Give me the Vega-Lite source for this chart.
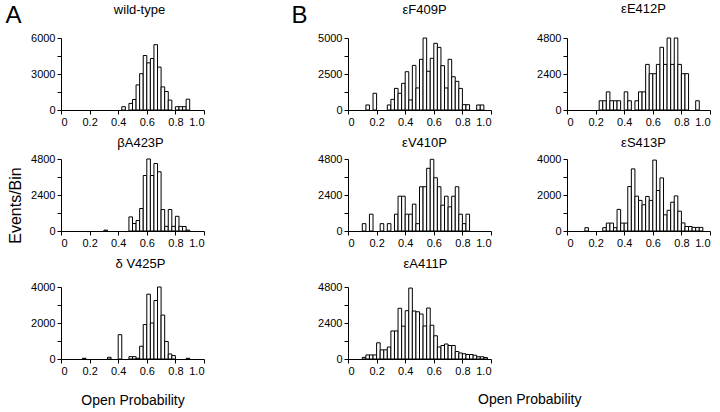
{
  "$schema": "https://vega.github.io/schema/vega-lite/v6.json",
  "padding": {"left": 5, "top": 3, "right": 5, "bottom": 3},
  "background": "white",
  "config": {
    "view": {"stroke": null},
    "font": "Liberation Sans",
    "axis": {"domainColor": "black", "tickColor": "black", "labelColor": "black", "labelFontSize": 11, "labelFont": "Liberation Sans", "grid": false, "tickSize": 4, "labelPadding": 2, "domainWidth": 1, "tickWidth": 1, "titleColor": "black", "titleFontWeight": "normal", "titleFont": "Liberation Sans", "labelOverlap": false},
    "title": {"fontSize": 13, "fontWeight": "normal", "font": "Liberation Sans", "color": "black"},
    "bar": {"fill": "white", "stroke": "black", "strokeWidth": 1}
  },
  "datasets": {
    "wt": [
      {"lo":0.425,"hi":0.45,"n":275},{"lo":0.475,"hi":0.5,"n":550},{"lo":0.5,"hi":0.525,"n":880},{"lo":0.525,"hi":0.55,"n":2090},{"lo":0.55,"hi":0.575,"n":3025},{"lo":0.575,"hi":0.6,"n":4540},{"lo":0.6,"hi":0.625,"n":3930},{"lo":0.625,"hi":0.65,"n":4290},{"lo":0.65,"hi":0.675,"n":5445},{"lo":0.675,"hi":0.7,"n":3575},{"lo":0.7,"hi":0.725,"n":1925},{"lo":0.725,"hi":0.75,"n":1540},{"lo":0.75,"hi":0.775,"n":825},{"lo":0.8,"hi":0.825,"n":275},{"lo":0.825,"hi":0.85,"n":275},{"lo":0.85,"hi":0.875,"n":275},{"lo":0.875,"hi":0.9,"n":900}
    ],
    "bA423P": [
      {"lo":0.3,"hi":0.325,"n":60},{"lo":0.475,"hi":0.5,"n":940},{"lo":0.5,"hi":0.525,"n":500},{"lo":0.525,"hi":0.55,"n":700},{"lo":0.55,"hi":0.575,"n":1500},{"lo":0.575,"hi":0.6,"n":3700},{"lo":0.6,"hi":0.625,"n":4800},{"lo":0.625,"hi":0.65,"n":3700},{"lo":0.65,"hi":0.675,"n":4500},{"lo":0.675,"hi":0.7,"n":3950},{"lo":0.7,"hi":0.725,"n":1430},{"lo":0.725,"hi":0.75,"n":310},{"lo":0.75,"hi":0.775,"n":1430},{"lo":0.775,"hi":0.8,"n":310},{"lo":0.8,"hi":0.825,"n":980},{"lo":0.825,"hi":0.85,"n":310},{"lo":0.85,"hi":0.875,"n":300},{"lo":0.875,"hi":0.9,"n":60}
    ],
    "dV425P": [
      {"lo":0.15,"hi":0.175,"n":40},{"lo":0.325,"hi":0.35,"n":95},{"lo":0.4,"hi":0.425,"n":1350},{"lo":0.475,"hi":0.5,"n":130},{"lo":0.5,"hi":0.525,"n":130},{"lo":0.525,"hi":0.55,"n":40},{"lo":0.55,"hi":0.575,"n":710},{"lo":0.575,"hi":0.6,"n":1915},{"lo":0.6,"hi":0.625,"n":3600},{"lo":0.625,"hi":0.65,"n":2000},{"lo":0.65,"hi":0.675,"n":3250},{"lo":0.675,"hi":0.7,"n":4000},{"lo":0.7,"hi":0.725,"n":2440},{"lo":0.725,"hi":0.75,"n":975},{"lo":0.75,"hi":0.775,"n":280},{"lo":0.775,"hi":0.8,"n":190},{"lo":0.875,"hi":0.9,"n":40}
    ],
    "eF409P": [
      {"lo":0.125,"hi":0.15,"n":350},{"lo":0.175,"hi":0.2,"n":1160},{"lo":0.275,"hi":0.3,"n":350},{"lo":0.3,"hi":0.325,"n":740},{"lo":0.325,"hi":0.35,"n":1500},{"lo":0.35,"hi":0.375,"n":1160},{"lo":0.375,"hi":0.4,"n":1850},{"lo":0.4,"hi":0.425,"n":2660},{"lo":0.425,"hi":0.45,"n":700},{"lo":0.45,"hi":0.475,"n":3100},{"lo":0.475,"hi":0.5,"n":1530},{"lo":0.5,"hi":0.525,"n":3520},{"lo":0.525,"hi":0.55,"n":5000},{"lo":0.55,"hi":0.575,"n":2690},{"lo":0.575,"hi":0.6,"n":3590},{"lo":0.6,"hi":0.625,"n":4630},{"lo":0.625,"hi":0.65,"n":4350},{"lo":0.65,"hi":0.675,"n":3080},{"lo":0.675,"hi":0.7,"n":1530},{"lo":0.7,"hi":0.725,"n":3520},{"lo":0.725,"hi":0.75,"n":2310},{"lo":0.75,"hi":0.775,"n":1990},{"lo":0.775,"hi":0.8,"n":1500},{"lo":0.8,"hi":0.825,"n":370},{"lo":0.825,"hi":0.85,"n":370},{"lo":0.9,"hi":0.925,"n":350},{"lo":0.925,"hi":0.95,"n":350}
    ],
    "eE412P": [
      {"lo":0.225,"hi":0.25,"n":616},{"lo":0.25,"hi":0.275,"n":616},{"lo":0.275,"hi":0.3,"n":1210},{"lo":0.3,"hi":0.325,"n":616},{"lo":0.325,"hi":0.35,"n":616},{"lo":0.35,"hi":0.375,"n":616},{"lo":0.4,"hi":0.425,"n":1210},{"lo":0.425,"hi":0.45,"n":616},{"lo":0.475,"hi":0.5,"n":616},{"lo":0.5,"hi":0.525,"n":1210},{"lo":0.525,"hi":0.55,"n":1210},{"lo":0.55,"hi":0.575,"n":3040},{"lo":0.575,"hi":0.6,"n":2420},{"lo":0.6,"hi":0.625,"n":2420},{"lo":0.625,"hi":0.65,"n":3040},{"lo":0.65,"hi":0.675,"n":4180},{"lo":0.675,"hi":0.7,"n":3040},{"lo":0.7,"hi":0.725,"n":4800},{"lo":0.725,"hi":0.75,"n":3040},{"lo":0.75,"hi":0.775,"n":4800},{"lo":0.775,"hi":0.8,"n":3040},{"lo":0.8,"hi":0.825,"n":2420},{"lo":0.825,"hi":0.85,"n":2420},{"lo":0.9,"hi":0.925,"n":616}
    ],
    "eV410P": [
      {"lo":0.1,"hi":0.125,"n":490},{"lo":0.15,"hi":0.175,"n":1120},{"lo":0.225,"hi":0.25,"n":490},{"lo":0.275,"hi":0.3,"n":490},{"lo":0.325,"hi":0.35,"n":1120},{"lo":0.35,"hi":0.375,"n":2320},{"lo":0.375,"hi":0.4,"n":2320},{"lo":0.4,"hi":0.425,"n":1120},{"lo":0.425,"hi":0.45,"n":1120},{"lo":0.45,"hi":0.475,"n":1790},{"lo":0.475,"hi":0.5,"n":490},{"lo":0.5,"hi":0.525,"n":2950},{"lo":0.525,"hi":0.55,"n":2950},{"lo":0.55,"hi":0.575,"n":4180},{"lo":0.575,"hi":0.6,"n":4780},{"lo":0.6,"hi":0.625,"n":3550},{"lo":0.625,"hi":0.65,"n":2950},{"lo":0.65,"hi":0.675,"n":1720},{"lo":0.675,"hi":0.7,"n":2320},{"lo":0.7,"hi":0.725,"n":1610},{"lo":0.725,"hi":0.75,"n":2320},{"lo":0.75,"hi":0.775,"n":2950},{"lo":0.775,"hi":0.8,"n":1120},{"lo":0.8,"hi":0.825,"n":490},{"lo":0.825,"hi":0.85,"n":1120}
    ],
    "eS413P": [
      {"lo":0.125,"hi":0.15,"n":185},{"lo":0.25,"hi":0.275,"n":185},{"lo":0.275,"hi":0.3,"n":440},{"lo":0.3,"hi":0.325,"n":440},{"lo":0.325,"hi":0.35,"n":185},{"lo":0.35,"hi":0.375,"n":1200},{"lo":0.375,"hi":0.4,"n":440},{"lo":0.4,"hi":0.425,"n":440},{"lo":0.425,"hi":0.45,"n":2470},{"lo":0.45,"hi":0.475,"n":3450},{"lo":0.475,"hi":0.5,"n":1935},{"lo":0.5,"hi":0.525,"n":1700},{"lo":0.525,"hi":0.55,"n":1455},{"lo":0.55,"hi":0.575,"n":1920},{"lo":0.575,"hi":0.6,"n":1700},{"lo":0.6,"hi":0.625,"n":3940},{"lo":0.625,"hi":0.65,"n":2250},{"lo":0.65,"hi":0.675,"n":2950},{"lo":0.675,"hi":0.7,"n":900},{"lo":0.7,"hi":0.725,"n":1150},{"lo":0.725,"hi":0.75,"n":1600},{"lo":0.75,"hi":0.775,"n":1950},{"lo":0.775,"hi":0.8,"n":1100},{"lo":0.8,"hi":0.825,"n":450},{"lo":0.825,"hi":0.85,"n":250},{"lo":0.85,"hi":0.875,"n":250},{"lo":0.875,"hi":0.9,"n":200},{"lo":0.9,"hi":0.925,"n":200},{"lo":0.925,"hi":0.95,"n":200}
    ],
    "eA411P": [
      {"lo":0.1,"hi":0.125,"n":110},{"lo":0.125,"hi":0.15,"n":270},{"lo":0.15,"hi":0.175,"n":270},{"lo":0.175,"hi":0.2,"n":270},{"lo":0.2,"hi":0.225,"n":1080},{"lo":0.225,"hi":0.25,"n":610},{"lo":0.25,"hi":0.275,"n":610},{"lo":0.275,"hi":0.3,"n":800},{"lo":0.3,"hi":0.325,"n":1870},{"lo":0.325,"hi":0.35,"n":1870},{"lo":0.35,"hi":0.375,"n":3380},{"lo":0.375,"hi":0.4,"n":2190},{"lo":0.4,"hi":0.425,"n":3220},{"lo":0.425,"hi":0.45,"n":4730},{"lo":0.45,"hi":0.475,"n":3200},{"lo":0.475,"hi":0.5,"n":3150},{"lo":0.5,"hi":0.525,"n":3000},{"lo":0.525,"hi":0.55,"n":2200},{"lo":0.55,"hi":0.575,"n":3400},{"lo":0.575,"hi":0.6,"n":2250},{"lo":0.6,"hi":0.625,"n":1550},{"lo":0.625,"hi":0.65,"n":800},{"lo":0.65,"hi":0.675,"n":900},{"lo":0.675,"hi":0.7,"n":1000},{"lo":0.7,"hi":0.725,"n":900},{"lo":0.725,"hi":0.75,"n":900},{"lo":0.75,"hi":0.775,"n":500},{"lo":0.775,"hi":0.8,"n":400},{"lo":0.8,"hi":0.825,"n":350},{"lo":0.825,"hi":0.85,"n":300},{"lo":0.85,"hi":0.875,"n":300},{"lo":0.875,"hi":0.9,"n":250},{"lo":0.9,"hi":0.925,"n":150},{"lo":0.925,"hi":0.95,"n":150},{"lo":0.95,"hi":0.975,"n":100}
    ]
  },
  "spacing": 86,
  "hconcat": [
    {
      "spacing": 10,
      "vconcat": [
        {
          "width": 143, "height": 72,
          "data": {"name": "wt"},
          "title": {"text": "wild-type", "offset": -13.5, "dx": 7},
          "mark": "bar",
          "encoding": {
            "x": {"field": "lo", "type": "quantitative", "scale": {"domain": [0, 1], "nice": false}, "axis": {"title": null, "values": [0, 0.2, 0.4, 0.6, 0.8, 1], "labelExpr": "datum.value == 0 ? '0' : format(datum.value, '.1f')"}},
            "x2": {"field": "hi"},
            "y": {"field": "n", "type": "quantitative", "scale": {"domain": [0, 6000], "nice": false}, "axis": {"title": "A", "titleAngle": 0, "titleFontSize": 24, "titleX": -56, "titleY": -16, "titleAlign": "left", "titleBaseline": "alphabetic", "values": [0, 1500, 3000, 4500, 6000], "format": "d", "labelExpr": "datum.value % 3000 === 0 ? datum.label : ''"}},
            "y2": {"datum": 0}
          }
        },
        {
          "width": 143, "height": 72,
          "data": {"name": "bA423P"},
          "title": {"text": "βA423P", "offset": 3, "dx": 8},
          "mark": "bar",
          "encoding": {
            "x": {"field": "lo", "type": "quantitative", "scale": {"domain": [0, 1], "nice": false}, "axis": {"title": null, "values": [0, 0.2, 0.4, 0.6, 0.8, 1], "labelExpr": "datum.value == 0 ? '0' : format(datum.value, '.1f')"}},
            "x2": {"field": "hi"},
            "y": {"field": "n", "type": "quantitative", "scale": {"domain": [0, 4800], "nice": false}, "axis": {"title": "Events/Bin", "titleFontSize": 16, "titleX": -46, "titleY": 46, "titleAngle": -90, "titleAlign": "center", "titleBaseline": "middle", "values": [0, 1200, 2400, 3600, 4800], "format": "d", "labelExpr": "datum.value % 2400 === 0 ? datum.label : ''"}},
            "y2": {"datum": 0}
          }
        },
        {
          "width": 143, "height": 72,
          "data": {"name": "dV425P"},
          "title": {"text": "δ V425P", "offset": 10, "dx": 8},
          "mark": "bar",
          "encoding": {
            "x": {"field": "lo", "type": "quantitative", "scale": {"domain": [0, 1], "nice": false}, "axis": {"title": "Open Probability", "titleFontSize": 14, "titlePadding": 17, "values": [0, 0.2, 0.4, 0.6, 0.8, 1], "labelExpr": "datum.value == 0 ? '0' : format(datum.value, '.1f')"}},
            "x2": {"field": "hi"},
            "y": {"field": "n", "type": "quantitative", "scale": {"domain": [0, 4000], "nice": false}, "axis": {"title": null, "values": [0, 1000, 2000, 3000, 4000], "format": "d", "labelExpr": "datum.value % 2000 === 0 ? datum.label : ''"}},
            "y2": {"datum": 0}
          }
        }
      ]
    },
    {
      "title": {"text": "Open Probability", "orient": "bottom", "fontSize": 14, "offset": 17, "anchor": "middle", "dx": 29},
      "spacing": 44,
      "hconcat": [
        {
          "spacing": 10,
          "vconcat": [
            {
              "width": 143, "height": 72,
              "data": {"name": "eF409P"},
              "title": {"text": "εF409P", "offset": -13.5, "dx": 5},
              "mark": "bar",
              "encoding": {
                "x": {"field": "lo", "type": "quantitative", "scale": {"domain": [0, 1], "nice": false}, "axis": {"title": null, "values": [0, 0.2, 0.4, 0.6, 0.8, 1], "labelExpr": "datum.value == 0 ? '0' : format(datum.value, '.1f')"}},
                "x2": {"field": "hi"},
                "y": {"field": "n", "type": "quantitative", "scale": {"domain": [0, 5000], "nice": false}, "axis": {"title": "B", "titleAngle": 0, "titleFontSize": 24, "titleX": -57, "titleY": -16, "titleAlign": "left", "titleBaseline": "alphabetic", "values": [0, 1250, 2500, 3750, 5000], "format": "d", "labelExpr": "datum.value % 2500 === 0 ? datum.label : ''"}},
                "y2": {"datum": 0}
              }
            },
            {
              "width": 143, "height": 72,
              "data": {"name": "eV410P"},
              "title": {"text": "εV410P", "offset": 3, "dx": 5},
              "mark": "bar",
              "encoding": {
                "x": {"field": "lo", "type": "quantitative", "scale": {"domain": [0, 1], "nice": false}, "axis": {"title": null, "values": [0, 0.2, 0.4, 0.6, 0.8, 1], "labelExpr": "datum.value == 0 ? '0' : format(datum.value, '.1f')"}},
                "x2": {"field": "hi"},
                "y": {"field": "n", "type": "quantitative", "scale": {"domain": [0, 4800], "nice": false}, "axis": {"title": null, "values": [0, 1200, 2400, 3600, 4800], "format": "d", "labelExpr": "datum.value % 2400 === 0 ? datum.label : ''"}},
                "y2": {"datum": 0}
              }
            },
            {
              "width": 143, "height": 72,
              "data": {"name": "eA411P"},
              "title": {"text": "εA411P", "offset": 10, "dx": 6},
              "mark": "bar",
              "encoding": {
                "x": {"field": "lo", "type": "quantitative", "scale": {"domain": [0, 1], "nice": false}, "axis": {"title": null, "values": [0, 0.2, 0.4, 0.6, 0.8, 1], "labelExpr": "datum.value == 0 ? '0' : format(datum.value, '.1f')"}},
                "x2": {"field": "hi"},
                "y": {"field": "n", "type": "quantitative", "scale": {"domain": [0, 4800], "nice": false}, "axis": {"title": null, "values": [0, 1200, 2400, 3600, 4800], "format": "d", "labelExpr": "datum.value % 2400 === 0 ? datum.label : ''"}},
                "y2": {"datum": 0}
              }
            }
          ]
        },
        {
          "spacing": 10,
          "vconcat": [
            {
              "width": 143, "height": 72,
              "data": {"name": "eE412P"},
              "title": {"text": "εE412P", "offset": 16, "dx": 5},
              "mark": "bar",
              "encoding": {
                "x": {"field": "lo", "type": "quantitative", "scale": {"domain": [0, 1], "nice": false}, "axis": {"title": null, "values": [0, 0.2, 0.4, 0.6, 0.8, 1], "labelExpr": "datum.value == 0 ? '0' : format(datum.value, '.1f')"}},
                "x2": {"field": "hi"},
                "y": {"field": "n", "type": "quantitative", "scale": {"domain": [0, 4800], "nice": false}, "axis": {"title": null, "values": [0, 1200, 2400, 3600, 4800], "format": "d", "labelExpr": "datum.value % 2400 === 0 ? datum.label : ''"}},
                "y2": {"datum": 0}
              }
            },
            {
              "width": 143, "height": 72,
              "data": {"name": "eS413P"},
              "title": {"text": "εS413P", "offset": 3, "dx": 5},
              "mark": "bar",
              "encoding": {
                "x": {"field": "lo", "type": "quantitative", "scale": {"domain": [0, 1], "nice": false}, "axis": {"title": null, "values": [0, 0.2, 0.4, 0.6, 0.8, 1], "labelExpr": "datum.value == 0 ? '0' : format(datum.value, '.1f')"}},
                "x2": {"field": "hi"},
                "y": {"field": "n", "type": "quantitative", "scale": {"domain": [0, 4000], "nice": false}, "axis": {"title": null, "values": [0, 1000, 2000, 3000, 4000], "format": "d", "labelExpr": "datum.value % 2000 === 0 ? datum.label : ''"}},
                "y2": {"datum": 0}
              }
            }
          ]
        }
      ]
    }
  ]
}
